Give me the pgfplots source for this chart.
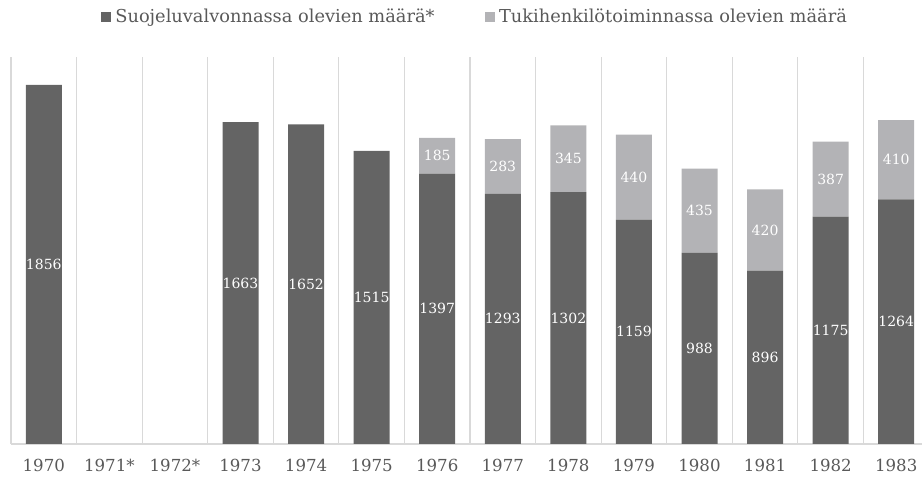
\documentclass[border=0pt]{standalone}
\usepackage{pgfplots}
\pgfplotsset{compat=1.18}
\usepackage{pgfplotstable}
\usepackage{fontspec}
\setmainfont{DejaVu Serif}
\definecolor{darkbar}{HTML}{646464}
\definecolor{lightbar}{HTML}{B3B3B6}
\definecolor{gridc}{HTML}{D9D9D9}
\definecolor{txt}{HTML}{595959}
\pgfplotstableread{
x y
0 1856
1 0
2 0
3 1663
4 1652
5 1515
6 1397
7 1293
8 1302
9 1159
10 988
11 896
12 1175
13 1264
}\darkdata
\pgfplotstableread{
x y
0 0
1 0
2 0
3 0
4 0
5 0
6 185
7 283
8 345
9 440
10 435
11 420
12 387
13 410
}\lightdata
\begin{document}
\begin{tikzpicture}
\begin{axis}[
  at={(5.5pt,16.5pt)}, anchor=south west,
  scale only axis, width=459pt, height=193.5pt,
  ybar stacked, bar width=18pt,
  xmin=-0.5, xmax=13.5, ymin=0, ymax=2000,
  axis y line=none, axis x line*=bottom,
  x axis line style={gridc, line width=0.6pt},
  xtick={0,...,13},
  xticklabels={1970,1971*,1972*,1973,1974,1975,1976,1977,1978,1979,1980,1981,1982,1983},
  major tick length=0pt,
  minor xtick={-0.5,0.5,...,13.5}, minor tick length=0pt,
  xminorgrids, minor grid style={gridc, line width=0.6pt},
  xticklabel style={font=\fontsize{8.3}{10}\selectfont, text=txt, yshift=-4pt},
  point meta=explicit symbolic,
  nodes near coords={\ifdim\pgfplotspointmeta pt>0pt \pgfplotspointmeta\fi},
  every node near coord/.append style={font=\fontsize{7}{8}\selectfont, text=white, anchor=center},
  legend columns=2,
  legend style={at={(rel axis cs:0.5065,1.103)}, anchor=center, draw=none, fill=none,
    font=\fontsize{8.9}{11}\selectfont, text=txt, cells={anchor=west},
    column sep=0pt,
    /tikz/every even column/.append style={column sep=23pt}},
  legend image code/.code={\draw[#1,draw=none] (0pt,-2.6pt) rectangle (5.2pt,2.6pt);},
  clip=false,
]
\addplot[fill=darkbar, draw=none] table[x=x,y=y,meta=y]{\darkdata};
\addplot[fill=lightbar, draw=none] table[x=x,y=y,meta=y]{\lightdata};
\legend{Suojeluvalvonnassa olevien määrä*, Tukihenkilötoiminnassa olevien määrä}
\end{axis}
\pgfresetboundingbox
\path[use as bounding box] (0,0) rectangle (461pt,238.5pt);
\end{tikzpicture}
\end{document}
